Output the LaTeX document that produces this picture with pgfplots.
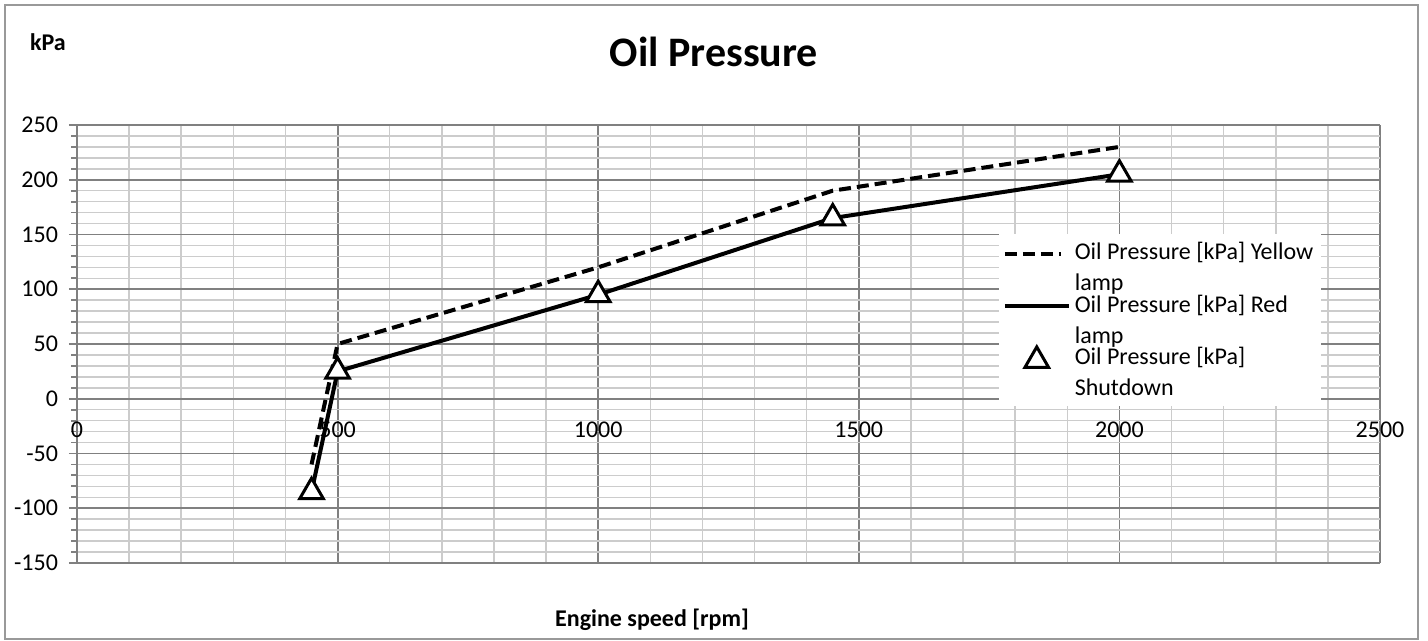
\documentclass[border=0pt]{standalone}
\usepackage{fontspec}
\setmainfont{Carlito}
\usepackage{pgfplots}
\pgfplotsset{compat=1.18}
\pgfplotsset{
  lineleg/.style={legend image code/.code={\draw[##1] (0pt,18.5pt) -- (#1,18.5pt);}},
  markleg/.style={legend image code/.code={\draw[##1] plot coordinates {(16pt,17.5pt)};}},
}
\begin{document}
\begin{tikzpicture}
\path (-38.5pt,-39pt) rectangle (675.5pt,281.5pt);
\draw[black!40, line width=1pt] (-36pt,-38.2pt) rectangle (670.5pt,279pt);
\begin{axis}[
  at={(0,0)}, anchor=south west,
  scale only axis, width=651.5pt, height=219pt,
  xmin=0, xmax=2500, ymin=-150, ymax=250,
  xtick={0,500,...,2500}, ytick={-150,-100,...,250},
  minor x tick num=4, minor y tick num=4,
  grid=both,
  major grid style={draw=black!50, line width=0.9pt},
  minor grid style={draw=black!20, line width=0.75pt},
  axis x line=middle, axis y line=left,
  axis line style={draw=black!50, line width=0.9pt, -},
  hide obscured x ticks=false, hide obscured y ticks=false,
  x tick style={draw=none}, minor tick style={draw=none},
  y tick style={draw=black!50, line width=0.9pt},
  tick align=outside, major tick length=4pt,
  scaled ticks=false,
  tick label style={font=\fontsize{12}{14}\selectfont},
  /pgf/number format/assume math mode=true,
  /pgf/number format/1000 sep={},
  xticklabel style={yshift=-4pt},
  yticklabel style={xshift=-2pt},
  clip=false,
  legend style={at={(0.7071,0.751)}, anchor=north west, draw=none, fill=white,
    inner sep=2pt, row sep=-3.5pt, column sep=0pt,
    cells={anchor=base west, align=left, font=\fontsize{12}{15.5}\selectfont}},
]
\addplot[black, line width=2pt, dash pattern=on 6pt off 3pt, lineleg=28pt]
  coordinates {(450,-60) (500,50) (1000,120) (1450,190) (2000,230)};
\addlegendentry{Oil Pressure [kPa] Yellow\\lamp}
\addplot[black, line width=2pt, lineleg=32pt]
  coordinates {(450,-85) (500,25) (1000,95) (1450,165) (2000,205)};
\addlegendentry{Oil Pressure [kPa] Red\\lamp}
\addplot[only marks, mark=triangle*, mark size=6.8pt,
  mark options={fill=white, draw=black, line width=1.5pt}, markleg]
  coordinates {(450,-85) (500,25) (1000,95) (1450,165) (2000,205)};
\addlegendentry{Oil Pressure [kPa]\\Shutdown}
\end{axis}
\node[font=\fontsize{21}{24}\selectfont\bfseries] at (318.5pt,255.5pt) {Oil Pressure};
\node[font=\fontsize{12}{14}\selectfont\bfseries] at (-14.5pt,260.5pt) {kPa};
\node[font=\fontsize{12}{14}\selectfont\bfseries] at (287.5pt,-28.5pt) {Engine speed [rpm]};
\end{tikzpicture}
\end{document}
